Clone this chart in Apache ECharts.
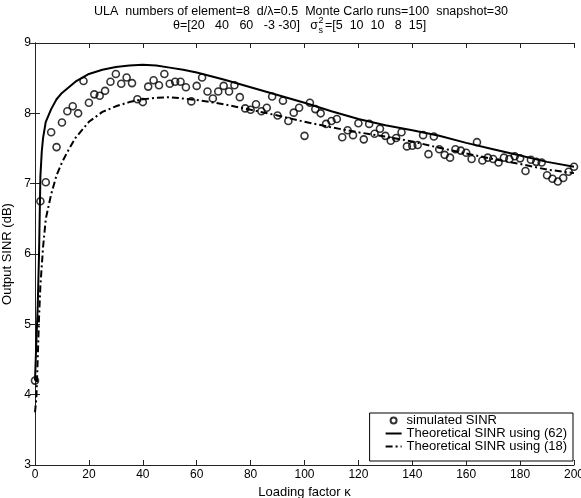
<!DOCTYPE html>
<html>
<head>
<meta charset="utf-8">
<script src="https://cdn.jsdelivr.net/npm/echarts@6/dist/echarts.min.js"></script>
<style>
  html, body { margin: 0; padding: 0; background: #fff; }
  #chart { width: 581px; height: 498px; }
</style>
</head>
<body>
<div id="chart"></div>
<script>
// loading factor values of the simulated points
const kSim = [0, 2, 4, 6, 8, 10, 12, 14, 16, 18, 20, 22, 24, 26, 28, 30, 32, 34, 36, 38,
  40, 42, 44, 46, 48, 50, 52, 54, 56, 58, 60, 62, 64, 66, 68, 70, 72, 74, 76, 78,
  80, 82, 84, 86, 88, 90, 92, 94, 96, 98, 100, 102, 104, 106, 108, 110, 112, 114, 116, 118,
  120, 122, 124, 126, 128, 130, 132, 134, 136, 138, 140, 142, 144, 146, 148, 150, 152, 154, 156, 158,
  160, 162, 164, 166, 168, 170, 172, 174, 176, 178, 180, 182, 184, 186, 188, 190, 192, 194, 196, 198, 200]
const simSINR = [4.20, 6.75, 7.02, 7.73, 7.52, 7.87, 8.03, 8.10, 8.00, 8.46, 8.15, 8.27, 8.25, 8.32, 8.45, 8.56, 8.42, 8.51, 8.43, 8.20,
  8.16, 8.38, 8.47, 8.40, 8.56, 8.42, 8.45, 8.45, 8.37, 8.17, 8.39, 8.51, 8.31, 8.21, 8.31, 8.39, 8.31, 8.40, 8.23, 8.07,
  8.05, 8.13, 8.03, 8.08, 8.24, 7.97, 8.18, 7.89, 8.01, 8.08, 7.68, 8.15, 8.06, 8.00, 7.85, 7.89, 7.92, 7.66, 7.76, 7.69,
  7.86, 7.63, 7.85, 7.71, 7.78, 7.68, 7.61, 7.65, 7.73, 7.53, 7.54, 7.55, 7.69, 7.42, 7.67, 7.49, 7.41, 7.37, 7.49, 7.47,
  7.44, 7.35, 7.59, 7.33, 7.37, 7.35, 7.30, 7.37, 7.35, 7.39, 7.36, 7.18, 7.34, 7.31, 7.30, 7.12, 7.07, 7.03, 7.08, 7.17, 7.24]

// theoretical curves
const kTheo62 = [0, 0.5, 1, 1.5, 2, 2.5, 3, 4, 6, 8, 10, 15, 20, 25, 30, 35, 40, 45, 50, 55, 60,
  70, 80, 90, 100, 110, 120, 130, 140, 150, 160, 170, 180, 190, 200]
const theo62 = [4.20, 4.75, 5.25, 6.00, 7.10, 7.45, 7.65, 7.88, 8.06, 8.20, 8.29, 8.45, 8.56, 8.62, 8.66, 8.68, 8.69, 8.68, 8.65, 8.62, 8.58,
  8.48, 8.37, 8.26, 8.15, 8.03, 7.92, 7.83, 7.76, 7.68, 7.58, 7.49, 7.40, 7.31, 7.24]
const kTheo18 = [0, 0.5, 1, 1.5, 2, 3, 4, 6, 8, 10, 12, 15, 20, 25, 30, 35, 40, 45, 50, 55, 60,
  70, 80, 90, 100, 110, 120, 130, 140, 150, 160, 170, 180, 190, 200]
const theo18 = [3.75, 3.95, 4.50, 5.10, 5.55, 6.10, 6.50, 6.85, 7.12, 7.30, 7.45, 7.65, 7.88, 8.02, 8.10, 8.16, 8.20, 8.22, 8.23, 8.21, 8.19,
  8.13, 8.05, 7.97, 7.88, 7.80, 7.73, 7.67, 7.60, 7.51, 7.43, 7.35, 7.28, 7.20, 7.15]

const xTicks = { min: 0, max: 200, interval: 20 }
const yTicks = { min: 3, max: 9, interval: 1 }

const font = 'Liberation Sans, Arial, Helvetica, sans-serif'
const axisColor = '#222'

const chart = echarts.init(document.getElementById('chart'))

const pairs = (xs, ys) => xs.map((x, i) => [x, ys[i]])

const boxAxis = (extra) => Object.assign({
  type: 'value',
  axisLine: { show: true, lineStyle: { color: axisColor, width: 1 } },
  axisTick: { show: true, inside: true, length: 5, lineStyle: { color: axisColor } },
  axisLabel: { show: false },
  splitLine: { show: false }
}, extra)

const titleText = (x, y, text, size, align) => ({
  type: 'text', x: x, y: y,
  style: { text: text, font: size + 'px ' + font, fill: '#000', align: align, verticalAlign: 'middle' }
})

const option = {
  backgroundColor: '#fff',
  animation: false,
  textStyle: { fontFamily: font },
  grid: { left: 35, right: 7, top: 43, bottom: 33, outerBoundsMode: 'none' },
  graphic: [
    titleText(301, 12, 'ULA  numbers of element=8  d/\u03bb=0.5  Monte Carlo runs=100  snapshot=30', 12.5, 'center'),
    titleText(318, 26, '\u03b8=[20   40   60   -3 -30]   \u03c3', 12.5, 'right'),
    titleText(318.5, 21, '2', 9, 'left'),
    titleText(318.5, 31, 's', 9, 'left'),
    titleText(325, 26, '=[5  10  10   8  15]', 12.5, 'left')
  ],
  legend: {
    orient: 'vertical',
    right: 8,
    bottom: 37,
    backgroundColor: '#fff',
    borderColor: '#000',
    borderWidth: 1,
    borderRadius: 0,
    padding: [1, 6, 8, 15],
    itemGap: 0,
    itemWidth: 16,
    itemHeight: 6,
    textStyle: { fontFamily: font, fontSize: 13, color: '#000' },
    data: [
      { name: 'simulated SINR' },
      { name: 'Theoretical SINR using (62)', itemStyle: { opacity: 0 } },
      { name: 'Theoretical SINR using (18)', itemStyle: { opacity: 0 } }
    ]
  },
  xAxis: [
    boxAxis({
      position: 'bottom',
      min: xTicks.min, max: xTicks.max, interval: xTicks.interval,
      name: 'Loading factor \u03ba',
      nameLocation: 'middle',
      nameGap: 17,
      nameTextStyle: { fontFamily: font, fontSize: 13, color: '#000' },
      axisLabel: { show: true, margin: 4, fontFamily: font, fontSize: 12, color: '#000' }
    }),
    boxAxis({ position: 'top', min: xTicks.min, max: xTicks.max, interval: xTicks.interval })
  ],
  yAxis: [
    boxAxis({
      position: 'left',
      min: yTicks.min, max: yTicks.max, interval: yTicks.interval,
      name: 'Output SINR (dB)',
      nameLocation: 'middle',
      nameGap: 10,
      nameTextStyle: { fontFamily: font, fontSize: 13, color: '#000' },
      axisLabel: { show: true, margin: 4, fontFamily: font, fontSize: 12, color: '#000' }
    }),
    boxAxis({ position: 'right', min: yTicks.min, max: yTicks.max, interval: yTicks.interval })
  ],
  series: [
    {
      name: 'simulated SINR',
      type: 'scatter',
      data: pairs(kSim, simSINR),
      symbol: 'circle',
      symbolSize: 7,
      itemStyle: { color: 'rgba(0,0,0,0)', borderColor: '#000', borderWidth: 1.6 },
      z: 3
    },
    {
      name: 'Theoretical SINR using (62)',
      type: 'line',
      data: pairs(kTheo62, theo62),
      symbol: 'none',
      lineStyle: { color: '#000', width: 2 },
      itemStyle: { color: '#000' },
      z: 2
    },
    {
      name: 'Theoretical SINR using (18)',
      type: 'line',
      data: pairs(kTheo18, theo18),
      symbol: 'none',
      lineStyle: { color: '#000', width: 2, type: [7, 3, 2, 3] },
      itemStyle: { color: '#000' },
      z: 2
    }
  ]
}

chart.setOption(option)
</script>
</body>
</html>
